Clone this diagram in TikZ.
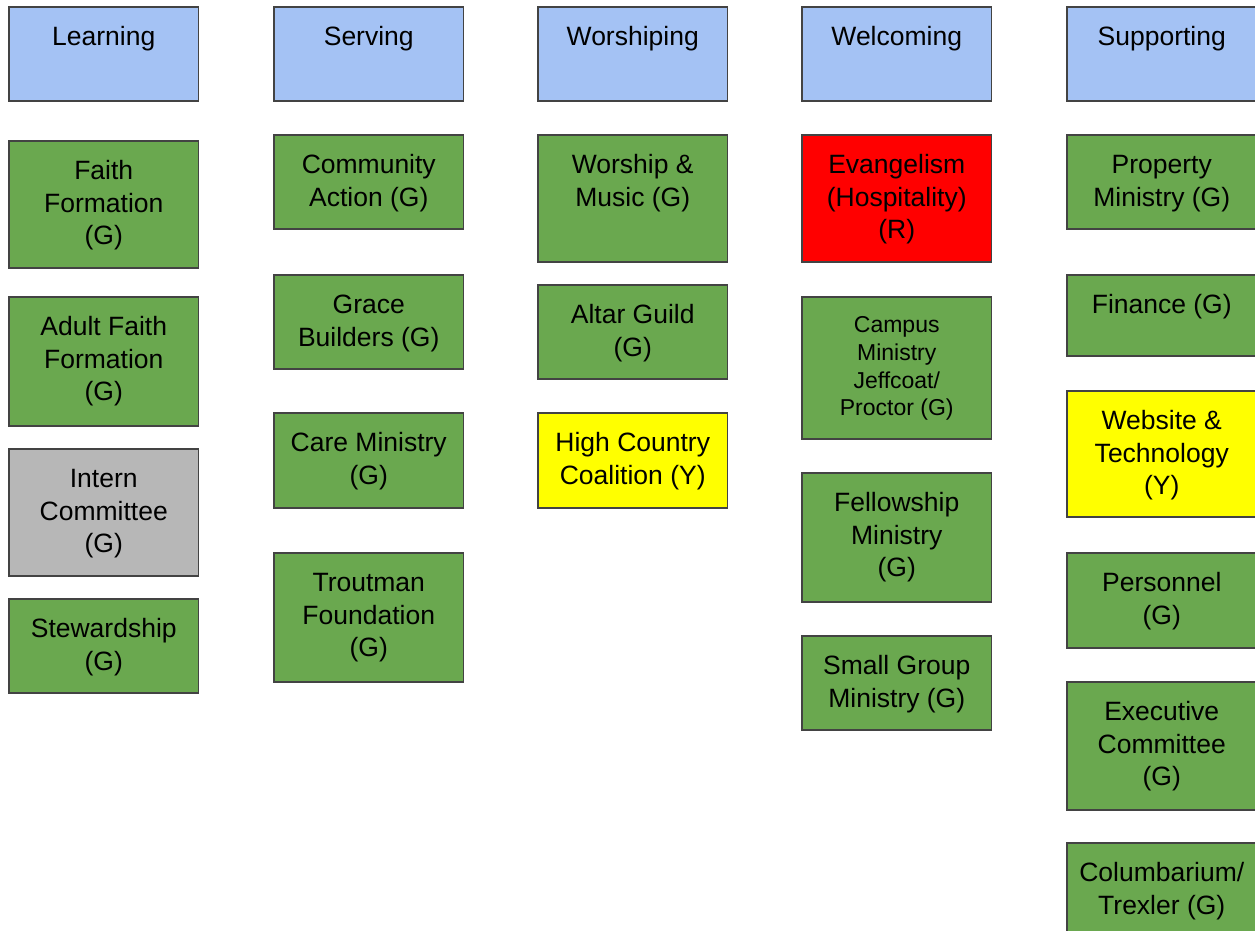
\documentclass[tikz,border=0pt]{standalone}
\usepackage{fontspec}
\setmainfont{Liberation Sans}
\definecolor{hdr}{HTML}{A4C2F4}
\definecolor{grn}{HTML}{6AA84F}
\definecolor{gry}{HTML}{B7B7B7}
\definecolor{rd}{HTML}{FF0000}
\definecolor{yl}{HTML}{FFFF00}
\definecolor{edge}{HTML}{434343}
\tikzset{
  boxs/.style={draw=edge,line width=1.5pt,rectangle,inner sep=0pt,outer sep=0pt,minimum width=189.5pt},
  txt/.style={anchor=north,inner sep=0pt,outer sep=0pt,align=center,text=black,font=\fontsize{26.5}{32.5}\selectfont},
  small/.style={font=\fontsize{23}{27.7}\selectfont}
}
\newcommand\mybox[7]{%
  \node[boxs,fill=#5,minimum height={#4pt-#3pt}] (#1) at ({#2+94.75},{(#3+#4)/2}) {};
  \node[txt,#6] (#1-t) at ({#2+94.75},{#3+15}) {\rule{0pt}{0.905em}#7};
}
\begin{document}
\begin{tikzpicture}[x=1pt,y=-1pt]
\useasboundingbox[fill=white] (0,0) rectangle (1255,930);
% Learning
\mybox{learn}{9}{7}{101}{hdr}{}{Learning}
\mybox{faith}{9}{141}{268}{grn}{}{Faith\\Formation\\(G)}
\mybox{adult}{9}{297}{426}{grn}{}{Adult Faith\\Formation\\(G)}
\mybox{intern}{9}{449}{576}{gry}{}{Intern\\Committee\\(G)}
\mybox{stew}{9}{599}{693}{grn}{}{Stewardship\\(G)}
% Serving
\mybox{serve}{274}{7}{101}{hdr}{}{Serving}
\mybox{comm}{274}{135}{229}{grn}{}{Community\\Action (G)}
\mybox{grace}{274}{275}{369}{grn}{}{Grace\\Builders (G)}
\mybox{care}{274}{413}{508}{grn}{}{Care Ministry\\(G)}
\mybox{trout}{274}{553}{682}{grn}{}{Troutman\\Foundation\\(G)}
% Worshiping
\mybox{worsh}{538}{7}{101}{hdr}{}{Worshiping}
\mybox{music}{538}{135}{262}{grn}{}{Worship \&\\Music (G)}
\mybox{altar}{538}{285}{379}{grn}{}{Altar Guild\\(G)}
\mybox{hcc}{538}{413}{508}{yl}{}{High Country\\Coalition (Y)}
% Welcoming
\mybox{welc}{802}{7}{101}{hdr}{}{Welcoming}
\mybox{evan}{802}{135}{262}{rd}{}{Evangelism\\(Hospitality)\\(R)}
\mybox{campus}{802}{297}{439}{grn}{small}{Campus\\Ministry\\Jeffcoat/\\Proctor (G)}
\mybox{fellow}{802}{473}{602}{grn}{}{Fellowship\\Ministry\\(G)}
\mybox{smallg}{802}{636}{730}{grn}{}{Small Group\\Ministry (G)}
% Supporting
\mybox{supp}{1067}{7}{101}{hdr}{}{Supporting}
\mybox{prop}{1067}{135}{229}{grn}{}{Property\\Ministry (G)}
\mybox{fin}{1067}{275}{356}{grn}{}{Finance (G)}
\mybox{web}{1067}{391}{517}{yl}{}{Website \&\\Technology\\(Y)}
\mybox{pers}{1067}{553}{648}{grn}{}{Personnel\\(G)}
\mybox{exec}{1067}{682}{810}{grn}{}{Executive\\Committee\\(G)}
\mybox{colum}{1067}{843}{940}{grn}{}{Columbarium/\\Trexler (G)}
\end{tikzpicture}
\end{document}
